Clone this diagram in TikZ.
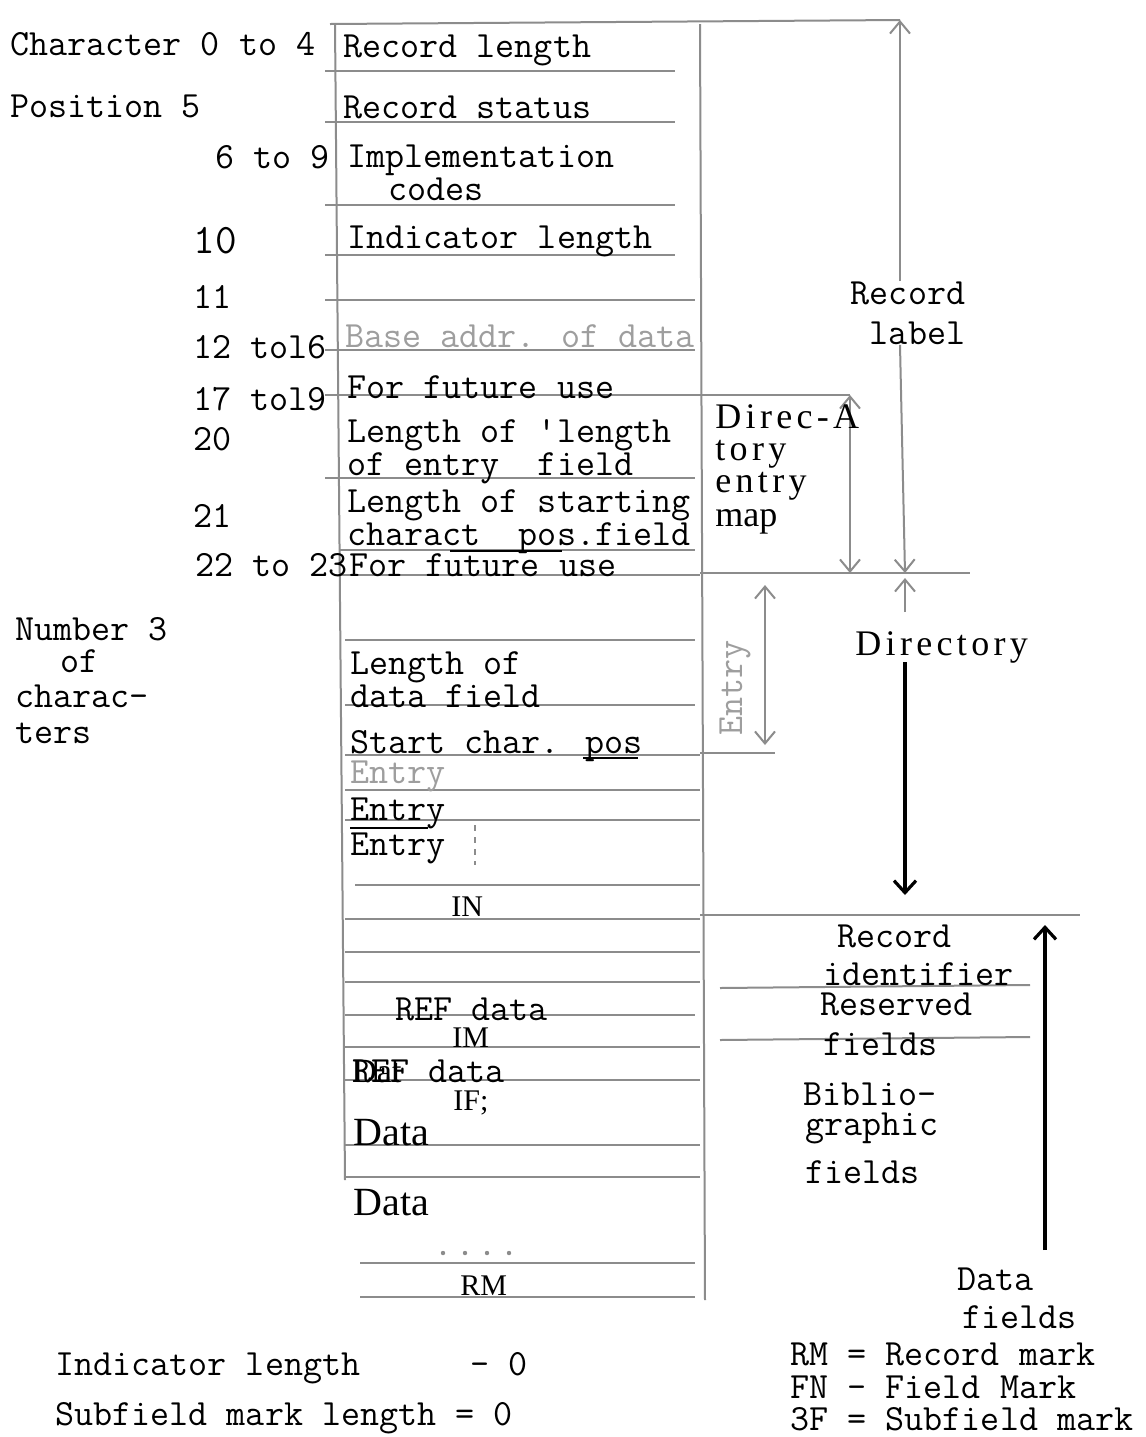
\documentclass[tikz,border=0pt]{standalone}
\usepackage{fontspec}
\setmainfont{Liberation Serif}
\newcommand{\typefont}{\ttfamily}
\newfontfamily\spacedfont[LetterSpace=12]{Liberation Serif}
\usetikzlibrary{arrows.meta, positioning}
\definecolor{ruleline}{gray}{0.55}
\definecolor{fadedtext}{gray}{0.62}

\tikzset{
  typed/.style={font=\typefont\fontsize{18.5}{20}\selectfont, inner sep=0pt, anchor=base west},
  printed/.style={font=\fontsize{15}{17}\selectfont, inner sep=0pt, anchor=base west},
  bigprint/.style={font=\fontsize{20}{22}\selectfont, inner sep=0pt, anchor=base west},
  spaced/.style={font=\spacedfont\fontsize{18}{20}\selectfont, inner sep=0pt, anchor=base west},
  rule/.style={draw=ruleline, line width=1pt},
  barb/.style={draw=ruleline, line width=1pt, -{Straight Barb[length=6pt,width=10pt]}},
  twobarb/.style={draw=ruleline, line width=1pt, {Straight Barb[length=6pt,width=10pt]}-{Straight Barb[length=6pt,width=10pt]}},
  boldbarb/.style={draw=black, line width=1.6pt, -{Straight Barb[length=6pt,width=11pt]}}
}

\begin{document}
\begin{tikzpicture}[x=0.5pt, y=-0.5pt]
\useasboundingbox[fill=white] (0,0) rectangle (1146,1437);

% frame of the record
\coordinate (topleft) at (330,24);
\coordinate (topright) at (900,20);
\coordinate (leftfoot) at (345,1180);
\coordinate (colright) at (700,24);
\coordinate (colfoot) at (705,1300);
\draw[rule] (topleft) -- (topright);
\draw[rule] (topleft -| 335,0) -- (leftfoot);
\draw[rule] (colright) -- (colfoot);

% row separators
\foreach \y/\xa/\xb in {71/325/675, 122/325/675, 205/325/675, 255/325/675,
    300/325/695, 350/325/695, 395/325/700, 478/325/695, 550/340/695,
    575/340/700, 640/345/695, 705/345/695, 755/345/700, 790/345/700,
    820/345/700, 885/355/700, 919/345/700, 952/345/700, 982/345/700,
    1015/345/695, 1047/345/700, 1080/345/700, 1145/345/700, 1177/345/700,
    1263/360/695, 1297/360/695}
  \draw[rule] (\xa,\y) -- (\xb,\y);

% position labels
\node[typed] (pos0) at (10,55) {Character 0 to 4};
\node[typed] (pos5) at (10,117) {Position 5};
\node[typed, anchor=base east] (pos6) at (330,168) {6 to 9};
\node[typed, font=\typefont\fontsize{21}{22}\selectfont] (pos10) at (193,253) {10};
\node[typed] (pos11) at (193,308) {11};
\node[typed] (pos12) at (193,358) {12 tol6};
\node[typed] (pos17) at (193,410) {17 tol9};
\node[typed] (pos20) at (193,450) {20};
\node[typed] (pos21) at (193,527) {21};
\node[typed] (pos22) at (195,576) {22 to 23};
\node[typed] (num1) at (15,640) {Number 3};
\node[typed] (num2) at (60,672) {of};
\node[typed] (num3) at (15,707) {charac-};
\node[typed] (num4) at (15,743) {ters};

% record label fields
\node[typed] (reclen) at (343,57) {Record length};
\node[typed] (recstat) at (343,118) {Record status};
\node[typed] (impl) at (347,167) {Implementation};
\node[typed] (codes) at (388,200) {codes};
\node[typed] (indlen) at (347,248) {Indicator length};
\node[typed, text=fadedtext] (baseaddr) at (345,347) {Base addr. of data};
\node[typed] (future1) at (347,398) {For future use};
\node[typed] (lenlen) at (347,442) {Length of 'length};
\node[typed] (lenlen2) at (347,475) {of entry\ \ field};
\node[typed] (lenstart) at (347,512) {Length of starting};
\node[typed] (lenstart2) at (347,545) {charact\ \ pos.field};
\node[typed] (future2) at (349,576) {For future use};
\draw[black, line width=1pt] (450,551) -- (562,551);

% directory
\node[typed] (dfield) at (350,674) {Length of};
\node[typed] (dfield2) at (350,707) {data field};
\node[typed] (startpos) at (350,753) {Start char. pos};
\draw[black, line width=1pt] (583,758) -- (638,758);
\node[typed, text=fadedtext] (entry1) at (350,783) {Entry};
\node[typed] (entry2) at (350,820) {Entry};
\draw[black, line width=1pt] (350,828) -- (428,828);
\node[typed] (entry3) at (350,855) {Entry};
\draw[ruleline, line width=1pt, dashed] (475,825) -- (475,865);

% data fields
\node[printed] (innode) at (451,916) {IN};
\node[typed] (refdata1) at (395,1020) {REF data};
\node[printed] (imnode) at (452,1047) {IM};
\node[typed] (refdata2) at (352,1082) {REF data};
\node[printed, font=\fontsize{17}{19}\selectfont] at (352,1082) {Dat};
\node[printed] (ifnode) at (453,1110) {IF;};
\node[bigprint] (data1) at (353,1145) {Data};
\node[bigprint] (data2) at (353,1215) {Data};
\foreach \x in {443,465,487,509}
  \fill[ruleline] (\x,1253) circle (2.2);
\node[printed] (rmnode) at (460,1295) {RM};

% record label span
\node[typed, align=center, anchor=center] (reclabel) at (908,313) {Record\\\ label};
\coordinate (labelfoot) at (905,573);
\draw[barb] (reclabel.north -| topright) -- (topright);
\draw[barb] (reclabel.south -| topright) -- (labelfoot);

% directory entry map span
\coordinate (maptop) at (850,395);
\coordinate (mapfoot) at (850,573);
\draw[rule] (colright |- maptop) -- (maptop);
\draw[twobarb] (maptop) -- (mapfoot);
\node[spaced] (map1) at (715,428) {Direc-A};
\node[spaced] (map2) at (715,460) {tory};
\node[spaced] (map3) at (715,492) {entry};
\node[printed, font=\fontsize{18}{20}\selectfont] (map4) at (715,526) {map};

% directory span
\coordinate (dirline) at (970,573);
\draw[rule] (colright |- dirline) -- (dirline);
\node[spaced, font=\spacedfont\fontsize{18}{20}\selectfont, anchor=base west] (directory) at (855,655) {Directory};
\coordinate (dirtop) at (905,578);
\coordinate (dirfoot) at (905,895);
\draw[barb] (905,612) -- (dirtop);
\draw[boldbarb] (905,662) -- (dirfoot);

% one entry
\coordinate (entrytop) at (765,585);
\coordinate (entryfoot) at (765,745);
\draw[twobarb] (entrytop) -- (entryfoot);
\draw[rule] (colright |- 0,753) -- (775,753);
\node[typed, text=fadedtext, rotate=90, anchor=center] (entrylabel) at (735,688) {Entry};

% data field span
\coordinate (dataline) at (1080,915);
\draw[rule] (colright |- dataline) -- (dataline);
\coordinate (datatop) at (1045,925);
\coordinate (datafoot) at (1045,1250);
\draw[boldbarb] (datafoot) -- (datatop);
\draw[rule] (720,988) -- (1030,985);
\draw[rule] (720,1040) -- (1030,1037);
\node[typed] (recid) at (837,947) {Record};
\node[typed] (recid2) at (823,985) {identifier};
\node[typed] (reserved) at (820,1015) {Reserved};
\node[typed] (reserved2) at (823,1055) {fields};
\node[typed] (biblio) at (803,1105) {Biblio-};
\node[typed] (biblio2) at (805,1135) {graphic};
\node[typed] (biblio3) at (805,1183) {fields};
\node[typed] (datafields) at (957,1290) {Data};
\node[typed] (datafields2) at (962,1328) {fields};

% key
\node[typed] (keyrm) at (790,1365) {RM = Record mark};
\node[typed] (keyfn) at (790,1398) {FN - Field Mark};
\node[typed] (keysf) at (790,1430) {3F = Subfield mark};
\node[typed] (indzero) at (55,1375) {Indicator length};
\node[typed] (indzero2) at (470,1375) {- 0};
\node[typed] (subzero) at (55,1425) {Subfield mark length = 0};
\end{tikzpicture}
\end{document}
